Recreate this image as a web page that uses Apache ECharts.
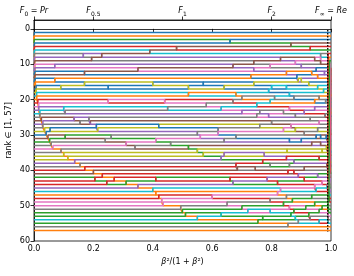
<!DOCTYPE html>
<html><head><meta charset="utf-8">
<script src="https://cdn.jsdelivr.net/npm/echarts@6/dist/echarts.min.js"></script>
<style>html,body{margin:0;padding:0;background:#fff}#c{width:354px;height:276px}</style>
</head><body><div id="c"></div>
<script>
// tab10 palette
const palette = {blue:'#1f77b4', orange:'#ff7f0e', green:'#2ca02c', red:'#d62728', purple:'#9467bd',
  brown:'#8c564b', pink:'#e377c2', gray:'#7f7f7f', olive:'#bcbd22', cyan:'#17becf'};

// colour of the item holding each rank (1..57) at x = 0
const startColors = ['orange',
  'blue','orange','green','blue','red','cyan','gray','purple','brown','pink',
  'purple','blue','brown','blue','orange','blue','olive','cyan','orange','red',
  'pink','purple','cyan','gray','brown','purple','gray','olive','blue','brown',
  'green','gray','pink','gray','olive','olive','purple','gray','red','brown',
  'green','red','red','purple','cyan','orange','red','pink','pink','gray',
  'green','green','cyan','green','gray',
  'orange'];

// the precision-first item falling through the ranking: [x, fromRank, toRank]
const fallingMoves = [
  [0.001,1,4],[0.002,4,8],[0.003,8,11],[0.004,11,14],[0.005,14,16],[0.007,16,18],[0.009,18,20],
  [0.013,20,21],[0.016,21,23],[0.02,23,25],[0.025,25,26],[0.03,26,28],[0.036,28,29],[0.041,29,30],
  [0.047,30,31],[0.053,31,32],[0.058,32,33],[0.064,33,34],[0.091,34,35],[0.1,35,36],[0.114,36,37],
  [0.137,37,38],[0.155,38,39],[0.171,39,40],[0.2,40,41],[0.23,41,42],[0.27,42,43],[0.31,43,44],
  [0.35,44,45],[0.40,45,46],[0.41,46,47],[0.42,47,48],[0.43,48,49],[0.435,49,50],[0.494,50,51],
  [0.5,51,52],[0.51,52,53],[0.55,53,54],[0.754,54,55],[0.855,55,56]
];

// rank swaps between neighbours: [x, rank, rank + 1]
const swaps = [
  [0.66,3,4],[0.865,4,5],[0.93,5,6],[0.39,6,7],[0.48,5,6],
  [0.166,7,8],[0.194,8,9],[0.228,7,8],[0.74,9,10],[0.67,10,11],[0.73,13,14],
  [0.07,10,11],[0.35,11,12],[0.17,12,13],[0.07,14,15],
  [0.09,16,17],[0.17,15,16],[0.25,16,17],[0.25,20,21],[0.1,22,23],[0.105,23,24],
  [0.135,25,26],[0.19,26,27],[0.21,27,28],
  [0.40,15,16],[0.52,16,17],[0.57,15,16],[0.64,16,17],[0.74,15,16],
  [0.52,18,19],[0.68,18,19],[0.70,19,20],
  [0.44,20,21],[0.58,21,22],[0.67,20,21],[0.75,21,22],
  [0.45,22,23],[0.63,22,23],[0.70,23,24],[0.75,24,25],
  [0.42,27,28],[0.62,28,29],
  [0.55,29,30],[0.56,30,31],[0.62,29,30],[0.68,30,31],
  [0.41,31,32],[0.46,32,33],[0.64,31,32],
  [0.52,33,34],[0.55,34,35],[0.57,35,36],[0.63,36,37],[0.64,35,36],
  [0.68,38,39],[0.685,39,40],[0.41,42,43],[0.66,42,43],[0.67,43,44],
  [0.6,47,48],[0.65,49,50],[0.7,50,51],[0.63,52,53],[0.72,51,52],
  [0.155,26,27],[0.185,25,26],[0.054,28,29],[0.215,28,29],
  [0.105,30,31],[0.24,31,32],[0.26,30,31],[0.31,32,33],[0.34,33,34],
  [0.205,42,43],[0.245,43,44],
  [0.83,8,9],[0.74,11,12],[0.795,10,11],[0.9,14,15],[0.79,17,18],[0.8,16,17],
  [0.795,20,21],[0.81,19,20],[0.76,23,24],[0.79,24,25],[0.84,23,24],
  [0.76,27,28],[0.8,26,27],[0.84,28,29],
  [0.86,31,32],[0.935,32,33],[0.95,30,31],[0.775,35,36],[0.85,36,37],
  [0.77,37,38],[0.795,38,39],[0.745,39,40],[0.855,40,41],
  [0.785,42,43],[0.82,43,44],[0.82,46,47],[0.83,45,46],
  [0.795,48,49],[0.84,49,50],[0.795,51,52],[0.865,52,53],[0.77,53,54],
  [0.88,9,10],[0.90,10,11],[0.945,8,9],[0.95,11,12],
  [0.85,12,13],[0.885,13,14],[0.935,12,13],[0.89,14,15],[0.955,13,14],
  [0.85,16,17],[0.925,15,16],[0.955,16,17],[0.975,17,18],
  [0.86,18,19],[0.875,19,20],[0.945,20,21],[0.96,19,20],
  [0.86,22,23],[0.88,24,25],[0.91,23,24],[0.93,25,26],[0.945,22,23],[0.96,26,27],[0.98,24,25],
  [0.865,27,28],[0.88,28,29],[0.91,29,30],[0.955,28,29],[0.965,30,31],
  [0.965,32,33],[0.985,33,34],[0.9,31,32],
  [0.852,34,35],[0.96,36,37],[0.97,34,35],
  [0.86,38,39],[0.875,37,38],[0.91,39,40],
  [0.875,40,41],[0.89,41,42],[0.91,42,43],[0.955,41,42],
  [0.945,44,45],[0.95,45,46],[0.97,43,44],
  [0.85,47,48],[0.87,48,49],[0.935,47,48],[0.945,49,50],
  [0.86,50,51],[0.875,51,52],[0.915,50,51],[0.925,52,53],[0.96,51,52],[0.97,50,51],
  [0.88,53,54],[0.89,54,55],[0.93,53,54],[0.96,54,55],
  [0.978,12,13],[0.982,20,21],[0.984,30,31],[0.986,38,39],[0.987,44,45]
];

// long jumps near the recall end: [x, fromRank, toRank]
const jumps = [[0.965,10,7],[0.990,55,7],[0.993,52,8],[0.995,49,9],[0.997,46,10],[0.999,41,11]];

const xTicks = [0, 0.2, 0.4, 0.6, 0.8, 1.0];
const yTicks = [0, 10, 20, 30, 40, 50, 60];
const topTickValues = [0, 0.2, 0.5, 0.8, 1.0];
const topTickLabels = ['{i|F}{s|0}{n| = }{i|Pr}', '{i|F}{s|0.5}', '{i|F}{s|1}', '{i|F}{s|2}', '{i|F}{s|∞}{n| = }{i|Re}'];
const dottedX = 0.989;
const dottedSpan = [0.3, 57.3];

// ---- build each item's path from the move list ----
const moves = fallingMoves.concat(swaps, jumps)
  .map((m, k) => [m, k]).sort((a, b) => a[0][0] - b[0][0] || a[1] - b[1]).map(a => a[0]);
let order = startColors.map((_, i) => i);
const paths = startColors.map((_, i) => [[0, i + 1]]);
for (const [x, from, to] of moves) {
  const lo = Math.min(from, to), hi = Math.max(from, to);
  const before = order.slice();
  const id = order.splice(from - 1, 1)[0];
  order.splice(to - 1, 0, id);
  for (let r = lo; r <= hi; r++) {
    const it = before[r - 1];
    const nr = order.indexOf(it) + 1;
    if (nr !== r) paths[it].push([x, r], [x, nr]);
  }
}
paths.forEach((p, i) => p.push([1, order.indexOf(i) + 1]));

const FONT = 'DejaVu Sans';
const series = paths.map((p, i) => ({
  type: 'line', data: p, symbol: 'none', silent: true, animation: false,
  lineStyle: {width: 1.5, color: palette[startColors[i]]}, itemStyle: {color: palette[startColors[i]]}
}));
series.push({
  type: 'line', data: [[dottedX, dottedSpan[0]], [dottedX, dottedSpan[1]]], symbol: 'none', silent: true,
  animation: false, z: 5, lineStyle: {width: 1.3, color: '#000', type: [1.5, 1.5]}
});

const chart = echarts.init(document.getElementById('c'), null, {renderer: 'canvas'});
const axisCommon = {
  axisLine: {show: true, lineStyle: {color: '#000', width: 0.8}},
  axisTick: {show: true, length: 3.5, lineStyle: {color: '#000', width: 0.8}},
  splitLine: {show: false}
};
chart.setOption({
  animation: false,
  grid: {left: 34, right: 23, top: 20, bottom: 35, containLabel: false, outerBoundsMode: 'none',
    show: true, borderColor: '#000', borderWidth: 0.8},
  xAxis: [
    Object.assign({
      type: 'value', min: 0, max: 1, interval: 0.2, position: 'bottom',
      axisLabel: {fontFamily: FONT, fontSize: 8, color: '#000', margin: 4, formatter: v => v.toFixed(1)},
      name: '{i|β}²/(1 + {i|β}²)', nameLocation: 'middle', nameGap: 17, nameMoveOverlap: false,
      nameTextStyle: {fontFamily: FONT, fontSize: 8, color: '#000', verticalAlign: 'top',
        rich: {i: {fontFamily: FONT, fontSize: 8, fontStyle: 'italic', color: '#000'}}}
    }, axisCommon),
    Object.assign({}, axisCommon, {
      type: 'value', min: 0, max: 1, position: 'top',
      axisTick: {show: true, length: 3.5, customValues: topTickValues, lineStyle: {color: '#000', width: 0.8}},
      axisLabel: {
        customValues: topTickValues, fontFamily: FONT, fontSize: 8, color: '#000', margin: 5,
        formatter: v => { let k = 0; topTickValues.forEach((t, j) => { if (Math.abs(t - v) < Math.abs(topTickValues[k] - v)) k = j; }); return topTickLabels[k]; },
        rich: {
          i: {fontFamily: FONT, fontSize: 8, fontStyle: 'italic', color: '#000', verticalAlign: 'bottom', lineHeight: 10},
          n: {fontFamily: FONT, fontSize: 8, color: '#000', verticalAlign: 'bottom', lineHeight: 10},
          s: {fontFamily: FONT, fontSize: 6, color: '#000', verticalAlign: 'bottom', lineHeight: 6, padding: [0, 0, -2, 0]}
        }
      }
    })
  ],
  yAxis: Object.assign({}, axisCommon, {
    type: 'value', inverse: true, min: -2.5, max: 60,
    axisTick: {show: true, length: 3.5, customValues: yTicks, lineStyle: {color: '#000', width: 0.8}},
    axisLabel: {customValues: yTicks, fontFamily: FONT, fontSize: 8, color: '#000', margin: 4},
    name: 'rank ∈ [1, 57]', nameLocation: 'middle', nameGap: 21, nameRotate: 90, nameMoveOverlap: false,
    nameTextStyle: {fontFamily: FONT, fontSize: 8, color: '#000'}
  }),
  series: series
});
</script></body></html>
